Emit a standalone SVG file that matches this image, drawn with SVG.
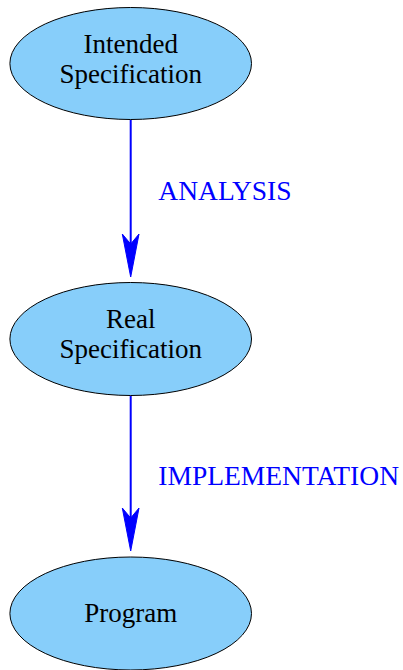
<svg xmlns="http://www.w3.org/2000/svg" width="403" height="670" viewBox="0 0 403 670">
  <style>
    .node ellipse { fill: #87cefa; stroke: #000000; stroke-width: 1; }
    .node text { font-family: "Liberation Serif", "Times New Roman", serif; font-size: 27px; fill: #000000; text-anchor: middle; }
    .edge line { stroke: #0000ff; stroke-width: 2; }
    .edge path { fill: #0000ff; stroke: #0000ff; stroke-width: 1; stroke-linejoin: miter; }
    .edge text { font-family: "Liberation Serif", "Times New Roman", serif; font-size: 27.5px; fill: #0000ff; }
  </style>
  <rect width="403" height="670" fill="#ffffff"/>

  <g id="connectors">
    <g class="edge" id="edge-analysis">
      <line x1="130.7" y1="120" x2="130.7" y2="245"/>
      <path d="M122.3,234 L130.7,244 L139,234 L130.7,277 Z"/>
      <text x="158.3" y="200">ANALYSIS</text>
    </g>
    <g class="edge" id="edge-implementation">
      <line x1="130.7" y1="396" x2="130.7" y2="519"/>
      <path d="M122.3,508 L130.7,518 L139,508 L130.7,551 Z"/>
      <text x="158.3" y="485">IMPLEMENTATION</text>
    </g>
  </g>

  <g class="node" id="node-intended">
    <ellipse cx="130.7" cy="63.5" rx="120.8" ry="56"/>
    <text x="130.7" y="53.3">Intended</text>
    <text x="130.7" y="83.3">Specification</text>
  </g>

  <g class="node" id="node-real">
    <ellipse cx="130.7" cy="339" rx="120.8" ry="56.5"/>
    <text x="130.7" y="327.5">Real</text>
    <text x="130.7" y="358.3">Specification</text>
  </g>

  <g class="node" id="node-program">
    <ellipse cx="130.7" cy="613.5" rx="120.8" ry="56.5"/>
    <text x="130.7" y="621.7">Program</text>
  </g>
</svg>
